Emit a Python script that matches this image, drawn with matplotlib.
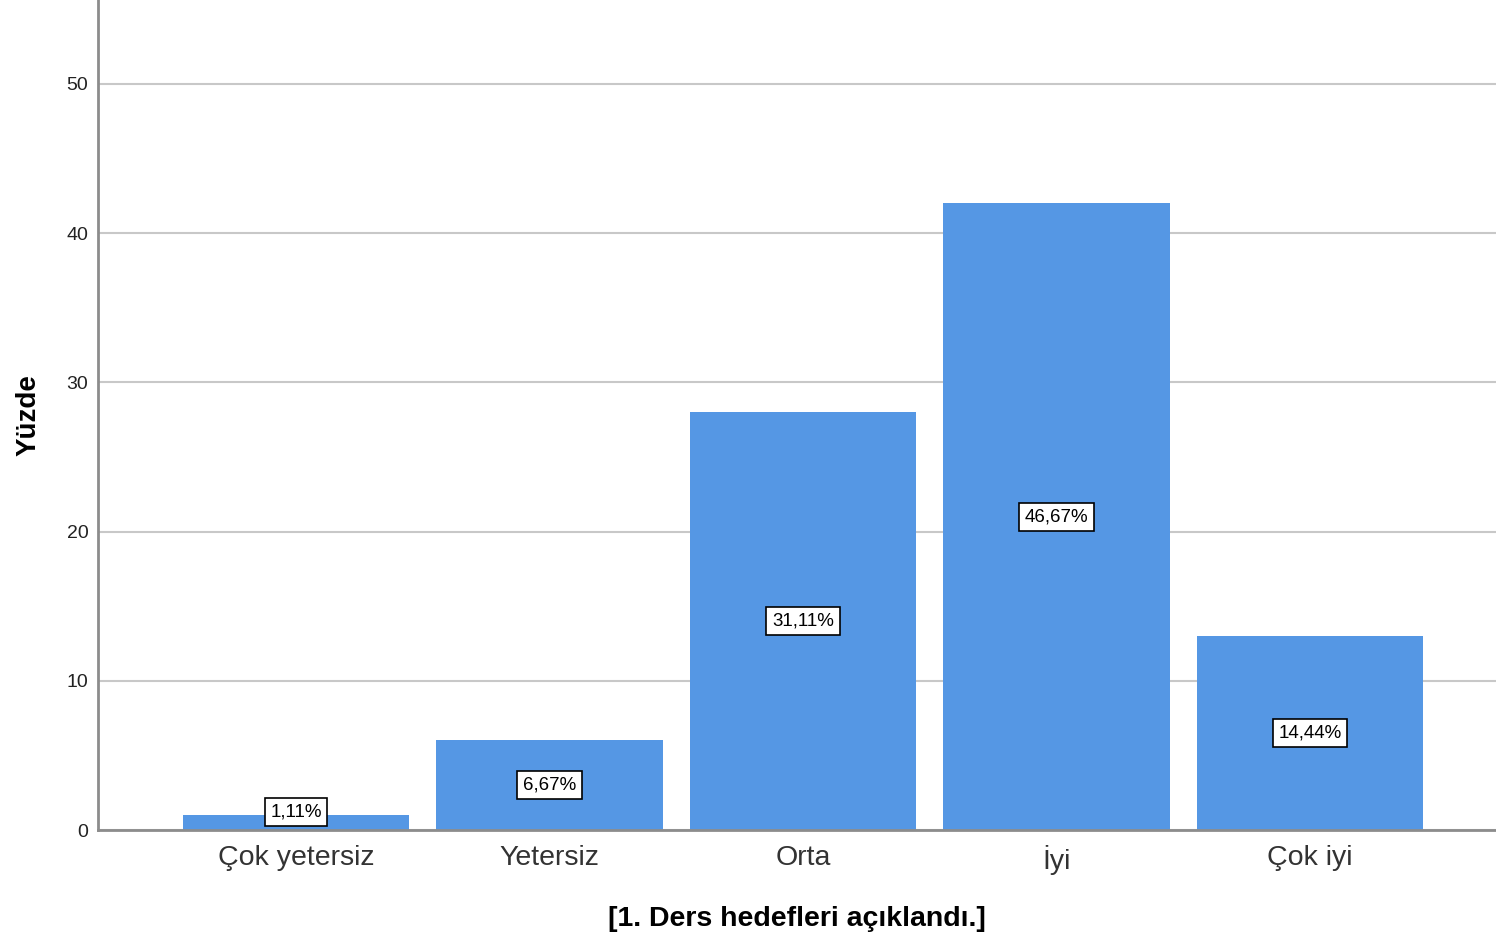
import matplotlib
matplotlib.use("Agg")
import matplotlib.pyplot as plt

# data
categories = ["Çok yetersiz", "Yetersiz", "Orta", "İyi", "Çok iyi"]
counts = [1, 6, 28, 42, 13]
percent_labels = ["1,11%", "6,67%", "31,11%", "46,67%", "14,44%"]
y_ticks = [0, 10, 20, 30, 40, 50]

bar_color = "#5597e4"
grid_color = "#c8c8c8"
spine_color = "#8c8c8c"

plt.rcParams["font.family"] = ["Liberation Sans", "DejaVu Sans"]

fig = plt.figure(figsize=(14.96, 9.38), dpi=100)
ax = fig.add_axes([98 / 1496, 108 / 938, 1 - 98 / 1496, 1 - 108 / 938])

x = list(range(len(categories)))
ax.bar(x, counts, width=0.895, color=bar_color, zorder=3)

for xi, h, lab in zip(x, counts, percent_labels):
    ax.text(xi, max(h / 2, 1.2), lab, ha="center", va="center", fontsize=13.5,
            color="black", zorder=5,
            bbox=dict(boxstyle="square,pad=0.3", facecolor="white",
                      edgecolor="black", linewidth=1.2))

ax.set_xlim(-0.781, 4.734)
ax.set_ylim(0, 55.63)
ax.set_yticks(y_ticks)
ax.set_yticklabels([str(t) for t in y_ticks], fontsize=14, color="#222222")
ax.set_xticks(x)
ax.set_xticklabels(categories, fontsize=20.5, color="#333333")
ax.tick_params(axis="x", length=0, pad=11)
ax.tick_params(axis="y", length=0, pad=7)

ax.yaxis.grid(True, color=grid_color, linewidth=1.5, zorder=0)
ax.set_axisbelow(True)

for s in ["top", "right"]:
    ax.spines[s].set_visible(False)
for s in ["left", "bottom"]:
    ax.spines[s].set_color(spine_color)
    ax.spines[s].set_linewidth(2)
    ax.spines[s].set_zorder(4)

ax.set_xlabel("[1. Ders hedefleri açıklandı.]", fontsize=20.5, fontweight="bold",
              labelpad=22)
ax.set_ylabel("Yüzde", fontsize=20, fontweight="bold", labelpad=18)

fig.savefig("out.png", dpi=100)
